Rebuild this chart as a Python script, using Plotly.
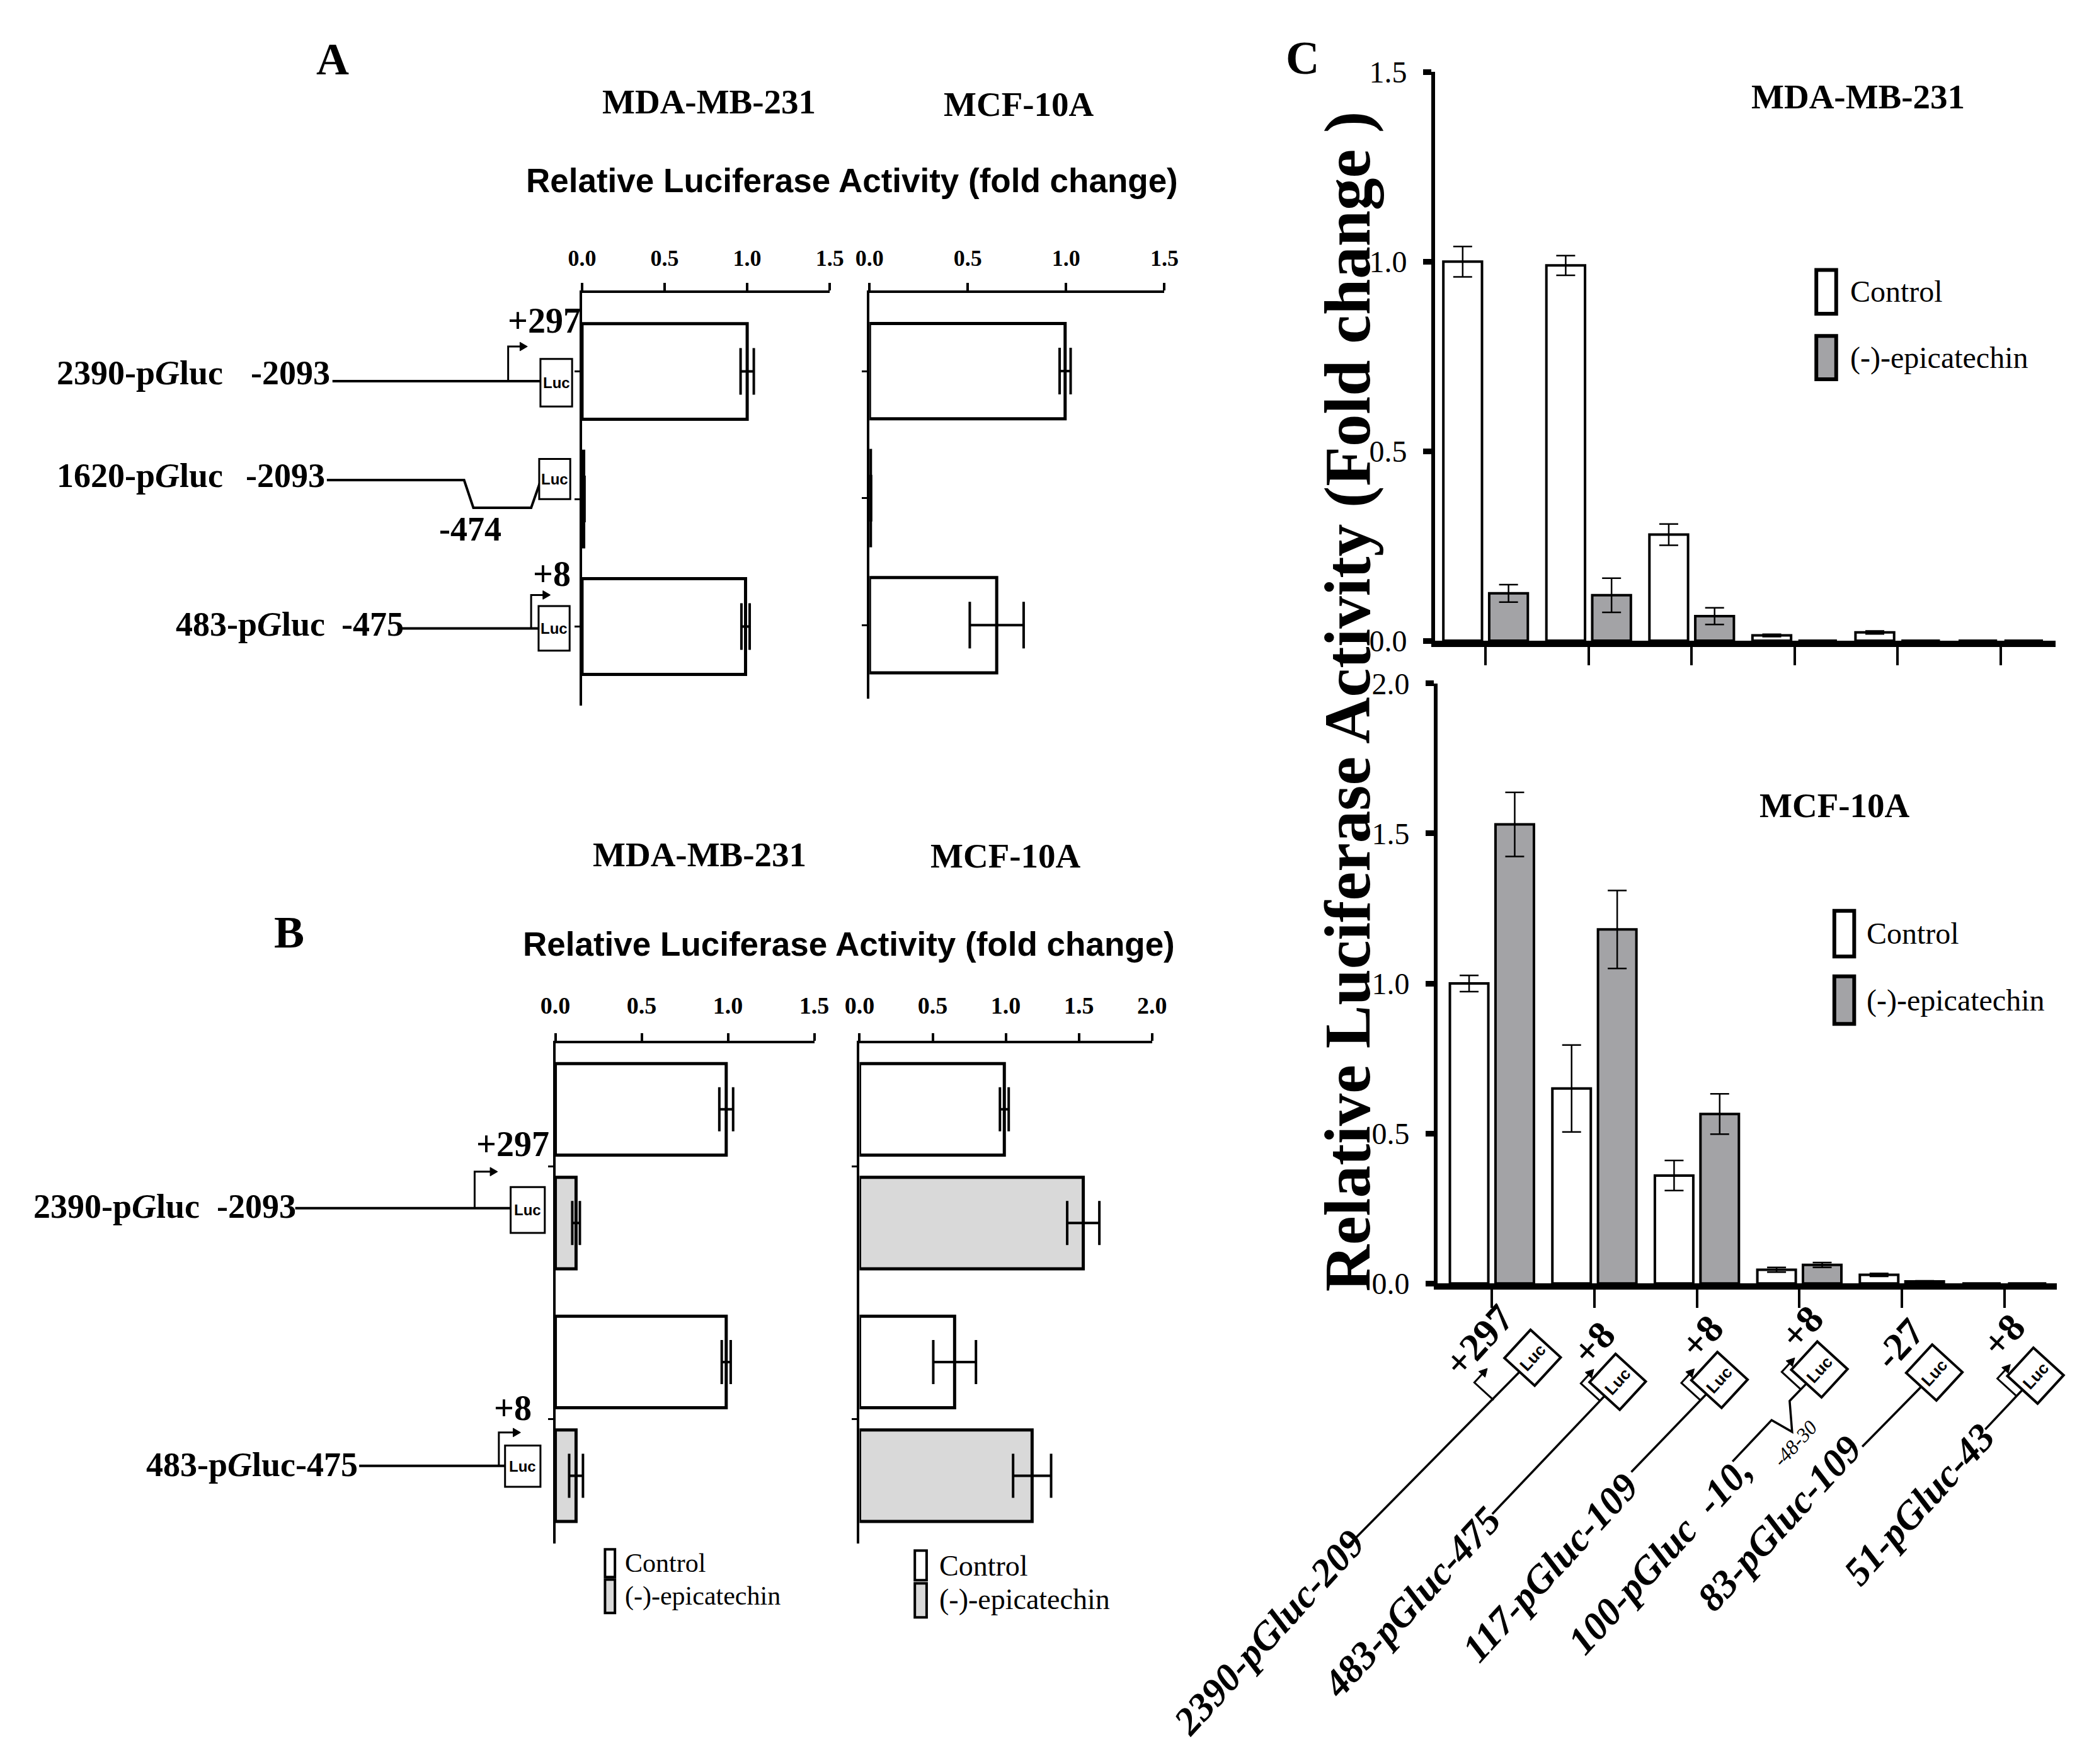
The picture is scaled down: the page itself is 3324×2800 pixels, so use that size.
import math
import plotly.graph_objects as go

W, H = 3324, 2800
OFF = 8  # page body margin that shifts the figure in the browser
SERIF = "Liberation Serif"
SANS = "Liberation Sans"
GRAY_B = "#d9d9d9"
GRAY_C = "#a3a3a6"

# ---------------- data ----------------
A_constructs = ["2390-pGluc", "1620-pGluc", "483-pGluc"]
A_mda = [1.00, 0.01, 0.99]
A_mda_err = [0.04, 0.005, 0.025]
A_mcf = [0.995, 0.005, 0.647]
A_mcf_err = [0.028, 0.003, 0.137]
A_ticks = [0.0, 0.5, 1.0, 1.5]

B_constructs = ["2390-pGluc", "483-pGluc"]
B_mda_ctrl = [0.99, 0.99]
B_mda_ctrl_err = [0.04, 0.026]
B_mda_epi = [0.12, 0.12]
B_mda_epi_err = [0.022, 0.04]
B_mcf_ctrl = [0.99, 0.65]
B_mcf_ctrl_err = [0.03, 0.146]
B_mcf_epi = [1.53, 1.18]
B_mcf_epi_err = [0.11, 0.13]
B_mda_ticks = [0.0, 0.5, 1.0, 1.5]
B_mcf_ticks = [0.0, 0.5, 1.0, 1.5, 2.0]

C_constructs = ["2390-pGluc-2093", "483-pGluc-475", "117-pGluc-109",
                "100-pGluc", "83-pGluc-109", "51-pGluc-43"]
C_mda_ctrl = [1.00, 0.99, 0.28, 0.014, 0.022, 0.0]
C_mda_ctrl_err = [0.04, 0.026, 0.028, 0.003, 0.004, 0.0]
C_mda_epi = [0.125, 0.12, 0.065, 0.0, 0.0, 0.0]
C_mda_epi_err = [0.023, 0.045, 0.022, 0.0, 0.0, 0.0]
C_mcf_ctrl = [1.00, 0.65, 0.36, 0.046, 0.029, 0.0]
C_mcf_ctrl_err = [0.027, 0.145, 0.05, 0.008, 0.005, 0.0]
C_mcf_epi = [1.53, 1.18, 0.565, 0.062, 0.007, 0.0]
C_mcf_epi_err = [0.107, 0.13, 0.067, 0.008, 0.002, 0.0]
C_top_ticks = [0.0, 0.5, 1.0, 1.5]
C_bot_ticks = [0.0, 0.5, 1.0, 1.5, 2.0]

C_labels = ["2390-pGluc-209", "483-pGluc-475", "117-pGluc-109",
            "100-pGluc  -10,", "83-pGluc-109", "51-pGluc-43"]
C_sites = ["+297", "+8", "+8", "+8", "-27", "+8"]


# ---------------- helpers ----------------
def px(x):
    return (x - OFF) / W


def py(y):
    return 1 - (y - OFF) / H


annotations = []
shapes = []


def text(x, y, s, size, family=SERIF, bold=True, italic=False,
         anchor="center", angle=0):
    annotations.append(dict(
        x=px(x), y=py(y), xref="paper", yref="paper", text=s,
        showarrow=False, xanchor=anchor, yanchor="middle", textangle=angle,
        font=dict(family=family, size=size, color="black",
                  weight="bold" if bold else "normal",
                  style="italic" if italic else "normal")))


def line(x0, y0, x1, y1, w=4):
    shapes.append(dict(type="line", xref="paper", yref="paper",
                       x0=px(x0), y0=py(y0), x1=px(x1), y1=py(y1),
                       line=dict(color="black", width=w)))


def path(pts, w=4, closed=False, fill=None):
    d = "M " + " L ".join(f"{px(a):.6f},{py(b):.6f}" for a, b in pts)
    if closed:
        d += " Z"
    s = dict(type="path", xref="paper", yref="paper", path=d,
             line=dict(color="black", width=w))
    if fill:
        s["fillcolor"] = fill
    shapes.append(s)


def rect(x0, y0, x1, y1, w=4, fill="white"):
    shapes.append(dict(type="rect", xref="paper", yref="paper",
                       x0=px(x0), y0=py(y0), x1=px(x1), y1=py(y1),
                       line=dict(color="black", width=w), fillcolor=fill))


def harrow(x, y0, ytop, x_end):
    # promoter arrow: up then right with arrowhead
    path([(x, y0), (x, ytop), (x_end, ytop)], w=3)
    path([(x_end - 2, ytop - 7), (x_end + 10, ytop), (x_end - 2, ytop + 7)],
         w=1, closed=True, fill="black")


def luc_box(x0, y0, x1, y1, size=24):
    rect(x0, y0, x1, y1, w=3)
    text((x0 + x1) / 2, (y0 + y1) / 2, "Luc", size, family=SANS, bold=True)


# ---------------- figure ----------------
fig = go.Figure()


def hbar(x, y, err, xa, ya, fill, width, offset=None, cap=36):
    kw = dict(offset=offset) if offset is not None else {}
    fig.add_trace(go.Bar(
        x=x, y=y, orientation="h", xaxis=xa, yaxis=ya, width=width,
        marker=dict(color=fill, line=dict(color="black", width=5)),
        error_x=dict(type="data", array=err, color="black", thickness=4,
                     width=cap), showlegend=False, **kw))


def vbar(x, y, err, xa, ya, fill, offset):
    fig.add_trace(go.Bar(
        x=x, y=y, xaxis=xa, yaxis=ya, width=0.375, offset=offset,
        marker=dict(color=fill, line=dict(color="black", width=4)),
        error_y=dict(type="data", array=err, color="black", thickness=2.5,
                     width=15), showlegend=False))


# Panel A
hbar(A_mda, A_constructs, A_mda_err, "x", "y", "white", 0.75, cap=37)
hbar(A_mcf, A_constructs, A_mcf_err, "x2", "y2", "white", 0.75, cap=37)
# Panel B
hbar(B_mda_ctrl, B_constructs, B_mda_ctrl_err, "x3", "y3", "white", 0.362, -0.406, 35)
hbar(B_mda_epi, B_constructs, B_mda_epi_err, "x3", "y3", GRAY_B, 0.362, 0.044, 35)
hbar(B_mcf_ctrl, B_constructs, B_mcf_ctrl_err, "x4", "y4", "white", 0.362, -0.406, 35)
hbar(B_mcf_epi, B_constructs, B_mcf_epi_err, "x4", "y4", GRAY_B, 0.362, 0.044, 35)
# Panel C
vbar(C_constructs, C_mda_ctrl, C_mda_ctrl_err, "x5", "y5", "white", -0.41)
vbar(C_constructs, C_mda_epi, C_mda_epi_err, "x5", "y5", GRAY_C, 0.035)
vbar(C_constructs, C_mcf_ctrl, C_mcf_ctrl_err, "x6", "y6", "white", -0.41)
vbar(C_constructs, C_mcf_epi, C_mcf_epi_err, "x6", "y6", GRAY_C, 0.035)


def top_xaxis(x0, x1, rng, ticks, anchor, size, standoff):
    return dict(domain=[px(x0), px(x1)], range=rng, side="top", anchor=anchor,
                tickvals=ticks, tickformat=".1f", showline=True,
                linecolor="black", linewidth=4, ticks="outside", ticklen=12,
                tickwidth=4, tickcolor="black", showgrid=False,
                zeroline=False, ticklabelstandoff=standoff, fixedrange=True,
                tickfont=dict(family=SERIF, size=size, color="black",
                              weight="bold"))


def cat_yaxis(y0, y1, rng, anchor):
    return dict(domain=[py(y1), py(y0)], range=rng, type="category",
                anchor=anchor, showline=True, linecolor="black", linewidth=4,
                ticks="outside", ticklen=8, tickwidth=3, tickcolor="black",
                showticklabels=False, showgrid=False, zeroline=False,
                fixedrange=True)


def c_xaxis(x0, x1, rng, anchor):
    return dict(domain=[px(x0), px(x1)], range=rng, type="category",
                anchor=anchor, showline=True, linecolor="black", linewidth=10,
                ticks="outside", ticklen=29, tickwidth=4, tickcolor="black",
                showticklabels=False, showgrid=False, zeroline=False,
                fixedrange=True)


def c_yaxis(y0, y1, rng, ticks, anchor):
    return dict(domain=[py(y1), py(y0)], range=rng, tickvals=ticks,
                tickformat=".1f", anchor=anchor, showline=True,
                linecolor="black", linewidth=6, ticks="outside", ticklen=13,
                tickwidth=9, tickcolor="black", showgrid=False, zeroline=False,
                ticklabelstandoff=16, fixedrange=True,
                tickfont=dict(family=SERIF, size=48, color="black"))


layout = dict(
    width=W, height=H, margin=dict(l=0, r=0, t=0, b=0),
    paper_bgcolor="white", plot_bgcolor="rgba(0,0,0,0)",
    barmode="overlay", showlegend=False,
    xaxis=top_xaxis(913, 1312, [0, 1.5], A_ticks, "y", 36, 12),
    yaxis=cat_yaxis(447, 1115, [2.62, -0.617], "x"),
    xaxis2=top_xaxis(1376, 1851, [0, 1.5], A_ticks, "y2", 36, 12),
    yaxis2=cat_yaxis(447, 1104, [2.58, -0.617], "x2"),
    xaxis3=top_xaxis(870, 1287, [0, 1.5], B_mda_ticks, "y3", 38, 16),
    yaxis3=cat_yaxis(1661, 2471, [1.494, -0.487], "x3"),
    xaxis4=top_xaxis(1360, 1831, [0, 2.0], B_mcf_ticks, "y4", 38, 16),
    yaxis4=cat_yaxis(1661, 2471, [1.494, -0.487], "x4"),
    xaxis5=c_xaxis(2287, 3286, [-0.49, 5.53], "y5"),
    yaxis5=c_yaxis(90, 1010, [0, 1.5], C_top_ticks, "x5"),
    xaxis6=c_xaxis(2291, 3288, [-0.53, 5.51], "y6"),
    yaxis6=c_yaxis(1079, 2050, [0, 2.0], C_bot_ticks, "x6"),
)

# ---------------- panel labels & titles ----------------
text(511, 69, "A", 72)
text(441, 1482, "B", 72)
text(2073, 67, "C", 74)

text(1118, 138, "MDA-MB-231", 55)
text(1617, 142, "MCF-10A", 55)
text(1102, 1356, "MDA-MB-231", 55)
text(1595, 1358, "MCF-10A", 55)
text(1348, 265, "Relative Luciferase Activity (fold change)", 53, family=SANS)
text(1343, 1501, "Relative Luciferase Activity (fold change)", 53, family=SANS)

text(2968, 130, "MDA-MB-231", 55)
text(2931, 1277, "MCF-10A", 55)
text(2146, 1108, "Relative Luciferase Activity (Fold change )", 103, angle=-90)

# ---------------- panel A construct diagrams ----------------
text(65, 577, "2390-p<i>G</i>luc", 54, anchor="left")
text(377, 577, "-2093", 54, anchor="left")
line(511, 590, 846, 590)
harrow(794, 590, 534, 815)
luc_box(846, 554, 897, 631)
text(852, 492, "+297", 56)

text(65, 743, "1620-p<i>G</i>luc", 54, anchor="left")
text(369, 743, "-2093", 54, anchor="left")
path([(502, 750), (723, 750), (738, 795), (831, 795), (846, 752)], w=4)
luc_box(844, 716, 894, 781)
text(733, 830, "-474", 54)

text(257, 983, "483-p<i>G</i>luc", 54, anchor="left")
text(523, 983, "-475", 54, anchor="left")
line(621, 990, 843, 990)
harrow(831, 990, 936, 852)
luc_box(843, 954, 893, 1026)
text(864, 902, "+8", 56)

# ---------------- panel B construct diagrams ----------------
text(27, 1925, "2390-p<i>G</i>luc", 54, anchor="left")
text(323, 1925, "-2093", 54, anchor="left")
line(451, 1928, 798, 1928)
harrow(740, 1928, 1869, 767)
luc_box(798, 1894, 853, 1968)
text(801, 1824, "+297", 56)

text(209, 2343, "483-p<i>G</i>luc-475", 54, anchor="left")
line(554, 2345, 789, 2345)
harrow(779, 2345, 2291, 804)
luc_box(789, 2312, 846, 2379)
text(801, 2251, "+8", 56)

# ---------------- panel B legends ----------------
rect(950, 2480, 966, 2525, w=4)
rect(950, 2529, 966, 2583, w=4, fill=GRAY_B)
text(980, 2502, "Control", 42, bold=False, anchor="left")
text(980, 2556, "(-)-epicatechin", 42, bold=False, anchor="left")
rect(1449, 2482, 1468, 2530, w=4)
rect(1449, 2535, 1468, 2590, w=4, fill=GRAY_B)
text(1486, 2507, "Control", 46, bold=False, anchor="left")
text(1486, 2561, "(-)-epicatechin", 46, bold=False, anchor="left")

# ---------------- panel C legends ----------------
rect(2901, 410, 2933, 481, w=6)
rect(2901, 517, 2933, 587, w=6, fill=GRAY_C)
text(2954, 445, "Control", 48, bold=False, anchor="left")
text(2954, 552, "(-)-epicatechin", 48, bold=False, anchor="left")
rect(2930, 1447, 2962, 1521, w=6)
rect(2930, 1553, 2962, 1630, w=6, fill=GRAY_C)
text(2980, 1483, "Control", 48, bold=False, anchor="left")
text(2980, 1592, "(-)-epicatechin", 48, bold=False, anchor="left")

# ---------------- panel C rotated construct diagrams ----------------
ANG = 47.5
th = math.radians(ANG)
u = (math.cos(th), -math.sin(th))      # along construct (up-right)
n = (-math.sin(th), -math.cos(th))     # perpendicular (up-left)


def mv(p, v, k):
    return (p[0] + v[0] * k, p[1] + v[1] * k)


C_box = [(2444, 2170), (2581, 2209), (2745, 2206), (2906, 2189),
         (3091, 2194), (3254, 2199)]
C_line_end = [(2148, 2473), (2379, 2423), (2603, 2355), None,
              (2975, 2314), (3173, 2286)]
C_arrow_at = [93, 42, 45, 44, None, 45]
C_site_pos = [(2357, 2142), (2542, 2146), (2716, 2136), (2877, 2121),
              (3034, 2147), (3202, 2134)]
C_label_pos = [(2019, 2614), (2249, 2565), (2472, 2509), (2649, 2490),
               (2841, 2438), (3066, 2407)]

a, b = 31, 33
for i, c in enumerate(C_box):
    corners = [mv(mv(c, u, a), n, b), mv(mv(c, u, a), n, -b),
               mv(mv(c, u, -a), n, -b), mv(mv(c, u, -a), n, b)]
    path(corners, w=4, closed=True, fill="white")
    text(c[0], c[1], "Luc", 26, family=SANS, angle=-ANG)
    start = mv(c, u, -a)
    if C_line_end[i] is not None:
        line(start[0], start[1], C_line_end[i][0], C_line_end[i][1], w=3.5)
    else:
        path([start, (2858, 2240), (2862, 2290), (2829, 2271), (2766, 2338)], w=3.5)
    if C_arrow_at[i] is not None:
        p0 = mv(c, u, -C_arrow_at[i])
        p1 = mv(p0, n, 42)
        p2 = mv(p1, u, 20)
        path([p0, p1, p2], w=3)
        tip = mv(p2, u, 11)
        path([mv(mv(p2, u, -2), n, 7), tip, mv(mv(p2, u, -2), n, -7)],
             w=1, closed=True, fill="black")
    text(C_site_pos[i][0], C_site_pos[i][1], C_sites[i], 62, angle=-ANG)
    text(C_label_pos[i][0], C_label_pos[i][1], C_labels[i], 62,
         italic=True, angle=-ANG)

text(2867, 2309, "-48-30", 32, italic=True, bold=False, angle=-ANG)

layout["annotations"] = annotations
layout["shapes"] = shapes
fig.update_layout(**layout)
fig.write_html("out.html")
